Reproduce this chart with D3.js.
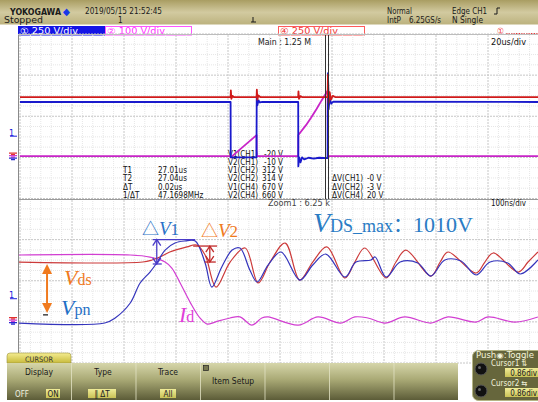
<!DOCTYPE html>
<html>
<head>
<meta charset="utf-8">
<script src="https://cdn.jsdelivr.net/npm/d3@7"></script>
<style>
body { margin: 0; background: #fff; }
svg { display: block; }
.ui { font-family: "DejaVu Sans Condensed", "DejaVu Sans", sans-serif; }
.ann { font-family: "Liberation Serif", "Times New Roman", serif; }
</style>
</head>
<body>
<svg id="chart" width="538" height="402"></svg>
<script>
// main window traces, time in us, value in V
var mainCh4 = [[0,711],[81,711],[81.1,790],[81.3,690],[81.7,725],[82.3,711],[91,711],[91.1,800],[91.3,680],[91.7,730],[92.4,711],
  [107,711],[107.1,780],[107.3,690],[107.8,722],[108.5,711],[118.3,711],[118.45,980],[118.7,640],[119.1,770],[119.6,680],[120.3,725],[121.2,711],[200,711]];
var mainCh1 = [[0,651],[81,651],[81.05,-20],[90.95,-20],[91.05,720],[91.3,610],[91.7,670],[92.3,645],[93.2,651],
  [107,651],[107.05,-130],[107.4,-20],[107.9,-80],[108.5,-20],[109.3,-45],[111,-25],[113,-35],[115,-25],[118.3,-30],
  [118.45,1000],[118.7,560],[119.1,700],[119.7,630],[120.5,655],[200,651]];
var mainCh2 = [[0,-2],[81,-2],[81.05,-8],[91,100],[91.05,-2],[107,-2],[107.05,100],[110,148],[112,185],[114,225],[116,268],[118.3,315],[118.45,-2],[200,-2]];

// zoom window traces, time in ns, value in V
var zoomCh4 = [[-4,714],[236,714],[254,739],[269,776],[288,837],[321,899],[340,923],[356,800],[377,407],[404,714],[433,886],
  [458,457],[481,714],[510,947],[538,493],[563,714],[590,899],[625,518],[644,714],[663,886],[704,518],[723,714],[742,861],
  [790,542],[808,714],[823,837],[877,579],[894,714],[910,825],[958,591],[977,714],[996,837]];
var zoomCh1 = [[-4,-34],[163,-34],[183,27],[212,211],[231,457],[250,591],[263,702],[279,861],[298,947],[317,972],[337,972],
  [356,702],[369,407],[388,653],[408,861],[423,886],[442,616],[456,469],[477,677],[502,837],[538,493],[563,677],[588,812],
  [625,530],[646,714],[675,739],[683,776],[704,530],[731,714],[765,702],[790,542],[817,739],[848,726],[877,555],[904,714],
  [938,702],[962,567],[996,739]];
var zoomCh2 = [[-4,320],[212,320],[250,310],[279,286],[292,256],[308,183],[327,89],[346,11],[360,-19],[375,-9],[404,11],
  [423,16],[446,-24],[465,11],[477,16],[535,-24],[573,16],[617,-14],[644,16],[669,11],[702,-14],[740,16],[790,-14],
  [823,16],[877,-9],[900,16],[952,-9],[996,16]];

var voltsPerDiv = { ch1: 250, ch2: 100, ch4: 250 };

var readTime = [['T1','27.01us'],['T2','27.04us'],['\u0394T','0.02us'],['1/\u0394T','47.1698MHz']];
var readLevel = [['V1(CH1)','-20 V'],['V2(CH1)','-10 V'],['V1(CH2)','312 V'],['V2(CH2)','314 V'],['V1(CH4)','670 V'],['V2(CH4)','660 V']];
var readDelta = [['\u0394V(CH1)','-0 V'],['\u0394V(CH2)','-3 V'],['\u0394V(CH4)','20 V']];

var menuLabels = ['Display','Type','Trace'];
var menuValues = ['ON','\u2016 \u0394T','All'];

var svg = d3.select('#chart');
var defs = svg.append('defs');

function vgrad(id, stops) {
	var g = defs.append('linearGradient').attr('id', id)
		.attr('x1', 0).attr('y1', 0).attr('x2', 0).attr('y2', 1);
	stops.forEach(s => g.append('stop').attr('offset', s[0]).attr('stop-color', s[1]));
}
vgrad('hdr', [[0,'#a99d62'],[0.5,'#d2caa0'],[1,'#bcb27e']]);
vgrad('menu', [[0,'#d6d6aa'],[0.45,'#a9a975'],[1,'#5c5c38']]);
vgrad('tab', [[0,'#f4ec90'],[1,'#c8bb3c']]);
vgrad('ybox', [[0,'#f0ec98'],[1,'#c9c256']]);

function txt(g, x, y, s, size, color, opts) {
	opts = opts || {};
	var t = g.append('text').attr('class', 'ui')
		.attr('x', x).attr('y', y)
		.attr('font-size', size)
		.attr('fill', color)
		.text(s);
	if (opts.anchor) t.attr('text-anchor', opts.anchor);
	if (opts.weight) t.attr('font-weight', opts.weight);
	if (opts.w) t.attr('textLength', opts.w).attr('lengthAdjust', 'spacingAndGlyphs');
	return t;
}

// header
svg.append('rect').attr('x', 0).attr('y', 0).attr('width', 538).attr('height', 24.5).attr('fill', 'url(#hdr)');
txt(svg, 10, 14.5, 'YOKOGAWA', 9, '#1a1a1a', { weight: 'bold', w: 51 });
txt(svg, 63, 14.5, '\u25C6', 10, '#1838e8');
txt(svg, 85, 14, '2019/05/15 21:52:45', 8, '#1a1a1a', { w: 77 });
txt(svg, 4, 23, 'Stopped', 8, '#1a1a1a', { w: 39 });
txt(svg, 118, 23, '1', 8, '#1a1a1a');
txt(svg, 387, 14, 'Normal', 8, '#1a1a1a', { w: 25 });
txt(svg, 452, 14, 'Edge CH1', 8, '#1a1a1a', { w: 35 });
txt(svg, 387, 23, 'IntP', 8, '#1a1a1a', { w: 14 });
txt(svg, 409, 23, '6.25GS/s', 8, '#1a1a1a', { w: 32 });
txt(svg, 452, 23, 'N Single', 8, '#1a1a1a', { w: 31 });
svg.append('path').attr('d', 'M494,14 h3 v-6 h3').attr('fill', 'none').attr('stroke', '#1a1a1a').attr('stroke-width', 1);
svg.append('path').attr('d', 'M253,17 v5 M251,22 h5').attr('fill', 'none').attr('stroke', '#1a1a1a').attr('stroke-width', 1);

// channel boxes
var chanBoxes = [
	{ x: 18, label: '\u2460 250 V/div', fill: '#1414e6', stroke: '#1414e6', color: '#ffffff' },
	{ x: 105, label: '\u2461 100 V/div', fill: '#ffffff', stroke: '#ff55ff', color: '#ff33ff' },
	{ x: 278, label: '\u2463 250 V/div', fill: '#ffffff', stroke: '#ff5a5a', color: '#f03434' }
];
chanBoxes.forEach(b => {
	svg.append('rect').attr('x', b.x + 0.5).attr('y', 26.5).attr('width', 86).attr('height', 8.5)
		.attr('fill', b.fill).attr('stroke', b.stroke).attr('stroke-width', 1);
	txt(svg, b.x + 2, 34, b.label, 8.5, b.color, { w: 58 });
});
txt(svg, 497, 34, '\u2460', 8.5, '#f03434');
svg.append('line').attr('x1', 506).attr('x2', 538).attr('y1', 33.5).attr('y2', 33.5)
	.attr('stroke', '#f03434').attr('stroke-dasharray', '1.5,1');

// grid
var grid = svg.append('g');
var fineX = d3.range(20, 538, 10.4);
var fineY = d3.range(34, 363.5, 329 / 32);
grid.selectAll('.fx').data(fineX).enter().append('line')
	.attr('x1', d => d).attr('x2', d => d).attr('y1', 35).attr('y2', 363)
	.attr('stroke', (d, i) => i % 5 === 0 ? '#c6c6c6' : '#e6e6e6')
	.attr('stroke-dasharray', (d, i) => i % 5 === 0 ? '2,1' : '1,1');
grid.selectAll('.fy').data(fineY).enter().append('line')
	.attr('x1', 19).attr('x2', 538).attr('y1', d => d).attr('y2', d => d)
	.attr('stroke', (d, i) => i % 4 === 0 ? '#c6c6c6' : '#e6e6e6')
	.attr('stroke-dasharray', (d, i) => i % 4 === 0 ? '2,1' : '1,1');
grid.append('line').attr('x1', 18.5).attr('x2', 18.5).attr('y1', 34).attr('y2', 363).attr('stroke', '#8a8a8a');
grid.append('line').attr('x1', 18).attr('x2', 538).attr('y1', 34.5).attr('y2', 34.5).attr('stroke', '#bdbdbd');
grid.append('line').attr('x1', 18).attr('x2', 538).attr('y1', 199.5).attr('y2', 199.5).attr('stroke', '#9a9a9a');

// scales
var xMain = d3.scaleLinear().domain([0, 200]).range([20, 540]);
var xZoom = d3.scaleLinear().domain([0, 1000]).range([20, 540]);
var yMain = d3.scaleLinear().domain([-2.1, 5.9]).range([199, 34]);
var yZoom = d3.scaleLinear().domain([-2.1, 5.9]).range([363, 200]);

defs.append('clipPath').attr('id', 'clipMain').append('rect').attr('x', 19).attr('y', 35).attr('width', 519).attr('height', 164);
defs.append('clipPath').attr('id', 'clipZoom').append('rect').attr('x', 19).attr('y', 200).attr('width', 519).attr('height', 163);

function trace(g, data, xs, ys, vdiv, curve, color, width) {
	var gen = d3.line().x(d => xs(d[0])).y(d => ys(d[1] / vdiv)).curve(curve);
	g.append('path').datum(data).attr('d', gen)
		.attr('fill', 'none').attr('stroke', color).attr('stroke-width', width)
		.attr('stroke-linejoin', 'round');
}

// readouts (under traces)
var rowY = [157, 165, 173, 181, 189.5, 197.5];
var ro = svg.append('g');
readTime.forEach((r, i) => {
	txt(ro, 123, rowY[i + 2], r[0], 8, '#111');
	txt(ro, 158, rowY[i + 2], r[1], 8, '#111');
});
readLevel.forEach((r, i) => {
	txt(ro, 228, rowY[i], r[0], 8, '#111', { w: 30 });
	txt(ro, 283, rowY[i], r[1], 8, '#111', { anchor: 'end' });
});
readDelta.forEach((r, i) => {
	txt(ro, 332, rowY[i + 3], r[0], 8, '#111', { w: 31 });
	txt(ro, 367, rowY[i + 3], r[1], 8, '#111');
});
txt(svg, 258, 45, 'Main : 1.25 M', 8.5, '#222', { w: 53 });
txt(svg, 491, 45, '20us/div', 8.5, '#111', { w: 35 });
txt(svg, 268, 206, 'Zoom1 : 6.25 k', 8.5, '#444', { w: 62 });
txt(svg, 491, 206, '100ns/div', 8.5, '#111', { w: 35 });

// main traces
var gm = svg.append('g').attr('clip-path', 'url(#clipMain)');
trace(gm, mainCh2, xMain, yMain, voltsPerDiv.ch2, d3.curveLinear, '#c824c8', 1.8);
trace(gm, mainCh1, xMain, yMain, voltsPerDiv.ch1, d3.curveLinear, '#1a1acc', 1.8);
trace(gm, mainCh4, xMain, yMain, voltsPerDiv.ch4, d3.curveLinear, '#d01a1a', 1.8);
gm.append('line').attr('x1', 325.5).attr('x2', 325.5).attr('y1', 35).attr('y2', 199).attr('stroke', '#333');
gm.append('line').attr('x1', 328.5).attr('x2', 328.5).attr('y1', 35).attr('y2', 199).attr('stroke', '#333');

// zoom traces
var gz = svg.append('g').attr('clip-path', 'url(#clipZoom)');
var smooth = d3.curveCatmullRom.alpha(0.5);
trace(gz, zoomCh2, xZoom, yZoom, voltsPerDiv.ch2, smooth, '#d23ed2', 1.2);
trace(gz, zoomCh4, xZoom, yZoom, voltsPerDiv.ch4, smooth, '#cc3a3a', 1.2);
trace(gz, zoomCh1, xZoom, yZoom, voltsPerDiv.ch1, smooth, '#3434bc', 1.2);

// left markers
function markers(yTrig, yGnd) {
	txt(svg, 9, yTrig, '1', 9, '#2222dd');
	svg.append('line').attr('x1', 10).attr('x2', 17).attr('y1', yTrig + 0.5).attr('y2', yTrig + 0.5).attr('stroke', '#2222dd');
	[['#e03030', -2.5], ['#d040d0', 0], ['#2a2ad0', 2.5]].forEach(m => {
		svg.append('path').attr('d', 'M9,' + (yGnd + m[1]) + ' h8 M11,' + (yGnd + m[1] + 1.5) + ' h4')
			.attr('stroke', m[0]).attr('stroke-width', 1.2);
	});
}
markers(yMain(0) - 20, yMain(0));
markers(yZoom(0) - 22, yZoom(0));

// annotations
var ann = svg.append('g');
var v1 = { t: 263, top: 990, bottom: 690, lineTo: 337 };
var v2 = { t: 365, top: 910, bottom: 714, lineFrom: 333, lineTo: 379 };
var vds = { t: 52, top: 690, bottom: 90 };
function zy(v) { return yZoom(v / voltsPerDiv.ch1); }

function openArrow(g, x, y1, y2, color) {
	g.append('line').attr('x1', x).attr('x2', x).attr('y1', y1).attr('y2', y2).attr('stroke', color).attr('stroke-width', 1.3);
	g.append('path').attr('d', 'M' + (x - 4) + ',' + (y1 + 6) + ' L' + x + ',' + y1 + ' L' + (x + 4) + ',' + (y1 + 6))
		.attr('fill', 'none').attr('stroke', color).attr('stroke-width', 1.3);
	g.append('path').attr('d', 'M' + (x - 4) + ',' + (y2 - 6) + ' L' + x + ',' + y2 + ' L' + (x + 4) + ',' + (y2 - 6))
		.attr('fill', 'none').attr('stroke', color).attr('stroke-width', 1.3);
}
var x1 = xZoom(v1.t);
openArrow(ann, x1, zy(v1.top), zy(v1.bottom), '#4a3cc8');
ann.append('line').attr('x1', x1 - 4).attr('x2', xZoom(v1.lineTo)).attr('y1', zy(v1.top)).attr('y2', zy(v1.top)).attr('stroke', '#4a3cc8').attr('stroke-width', 1.3);
ann.append('line').attr('x1', x1 - 4).attr('x2', x1 + 5).attr('y1', zy(v1.bottom)).attr('y2', zy(v1.bottom)).attr('stroke', '#4a3cc8').attr('stroke-width', 1.3);

var x2 = xZoom(v2.t);
openArrow(ann, x2, zy(v2.top), zy(v2.bottom), '#c02828');
ann.append('line').attr('x1', xZoom(v2.lineFrom)).attr('x2', xZoom(v2.lineTo)).attr('y1', zy(v2.top)).attr('y2', zy(v2.top)).attr('stroke', '#c02828').attr('stroke-width', 1.3);
ann.append('line').attr('x1', x2 - 5).attr('x2', x2 + 6).attr('y1', zy(v2.bottom)).attr('y2', zy(v2.bottom)).attr('stroke', '#c02828').attr('stroke-width', 1.3);

var xd = xZoom(vds.t), yt = zy(vds.top), yb = zy(vds.bottom);
ann.append('line').attr('x1', xd).attr('x2', xd).attr('y1', yt + 8).attr('y2', yb - 8).attr('stroke', '#f07a1e').attr('stroke-width', 2);
ann.append('path').attr('d', 'M' + xd + ',' + yt + ' l-5,10 h10 z').attr('fill', '#f07a1e');
ann.append('path').attr('d', 'M' + xd + ',' + yb + ' l-5,-10 h10 z').attr('fill', '#f07a1e');
ann.append('line').attr('x1', xd - 4).attr('x2', xd + 1).attr('y1', yb + 2).attr('y2', yb + 2).attr('stroke', '#111').attr('stroke-width', 1.2);

function label(x, y, color, parts) {
	var t = ann.append('text').attr('class', 'ann').attr('x', x).attr('y', y).attr('fill', color);
	parts.forEach(p => {
		var s = t.append('tspan').attr('font-size', p.size).text(p.t);
		if (p.italic) s.attr('font-style', 'italic');
		if (p.cjk) s.attr('font-family', '"Noto Sans CJK SC", "DejaVu Sans", sans-serif');
	});
}
label(142, 235, '#2a72c8', [{ t: '\u25B3', size: 17, cjk: true }, { t: 'V', size: 19, italic: true }, { t: '1', size: 17 }]);
label(201, 237, '#f07a1e', [{ t: '\u25B3', size: 17, cjk: true }, { t: 'V', size: 19, italic: true }, { t: '2', size: 17 }]);
label(313, 232, '#2a7cc4', [{ t: 'V', size: 28, italic: true }, { t: 'DS_max', size: 18 }, { t: '\uFF1A', size: 20, cjk: true }, { t: '1010V', size: 22 }]);
label(64, 285, '#f07a1e', [{ t: 'V', size: 22, italic: true }, { t: 'ds', size: 16 }]);
label(61, 315, '#1f6fc6', [{ t: 'V', size: 22, italic: true }, { t: 'pn', size: 16 }]);
label(179, 322, '#e040d8', [{ t: 'I', size: 22, italic: true }, { t: 'd', size: 16 }]);

// bottom menu
var menu = svg.append('g');
menu.append('path').attr('d', 'M7,363 V356 Q7,353 10,353 H68 Q71,353 71,356 V363 Z').attr('fill', 'url(#tab)').attr('stroke', '#9c9340').attr('stroke-width', 0.6);
txt(menu, 39, 361.5, 'CURSOR', 7.5, '#333', { anchor: 'middle', w: 28 });
menu.append('rect').attr('x', 7).attr('y', 363).attr('width', 451).attr('height', 37).attr('fill', 'url(#menu)');
[71.5, 136, 200.5, 265, 329.5, 394].forEach(x => {
	menu.append('line').attr('x1', x).attr('x2', x).attr('y1', 363).attr('y2', 400).attr('stroke', '#e2e2c4').attr('stroke-width', 0.8);
});
var btnCenters = [39, 103, 168];
menuLabels.forEach((m, i) => txt(menu, btnCenters[i], 375, m, 8.5, '#1a1a1a', { anchor: 'middle' }));
txt(menu, 15, 397, 'OFF', 8, '#f0f0e0');
var valBoxes = [[46, 14], [88, 28], [160, 16]];
menuValues.forEach((v, i) => {
	var b = valBoxes[i];
	menu.append('rect').attr('x', b[0]).attr('y', 389).attr('width', b[1]).attr('height', 9).attr('fill', 'url(#ybox)');
	txt(menu, b[0] + b[1] / 2, 397, v, 8, '#222', { anchor: 'middle' });
});
menu.append('rect').attr('x', 203.5).attr('y', 365.5).attr('width', 5).attr('height', 5).attr('fill', '#777750').attr('stroke', '#222').attr('stroke-width', 0.7);
txt(menu, 212, 384, 'Item Setup', 8.5, '#1a1a1a');

// knob panel
var kp = svg.append('g');
kp.append('rect').attr('x', 472.5).attr('y', 350.5).attr('width', 72).attr('height', 50).attr('rx', 6)
	.attr('fill', '#66663c').attr('stroke', '#b5b585');
txt(kp, 476, 357.5, 'Push\u25C9:Toggle', 8, '#f4f4dc', { w: 58 });
[369, 391].forEach(cy => {
	kp.append('circle').attr('cx', 481).attr('cy', cy).attr('r', 6).attr('fill', '#111').attr('stroke', '#555');
	kp.append('circle').attr('cx', 479.5).attr('cy', cy - 1.5).attr('r', 1.5).attr('fill', '#666');
});
txt(kp, 491, 366, 'Cursor1 \u21C5', 8, '#f4f4dc');
txt(kp, 491, 386, 'Cursor2 \u21C6', 8, '#f4f4dc');
[368, 388].forEach(y => {
	kp.append('rect').attr('x', 505).attr('y', y).attr('width', 33).attr('height', 9).attr('fill', 'url(#ybox)');
	txt(kp, 537, y + 8, '0.86div', 8, '#222', { anchor: 'end' });
});
</script>
</body>
</html>
